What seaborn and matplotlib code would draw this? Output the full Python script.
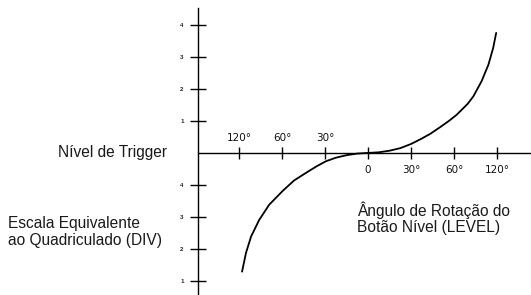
import matplotlib
matplotlib.use("Agg")
import matplotlib.pyplot as plt
import pandas as pd
import seaborn as sns

# Curve: knob rotation (tick units) vs trigger level (DIV)
rotation = [-2.93, -2.84, -2.72, -2.53, -2.30, -1.98, -1.72, -1.44, -1.20,
            -0.98, -0.75, -0.50, -0.25, 0.0, 0.25, 0.50, 0.75, 1.00, 1.25,
            1.45, 1.67, 1.87, 2.05, 2.18, 2.32, 2.45, 2.64, 2.80, 2.91, 2.98]
level = [-3.71, -3.13, -2.61, -2.09, -1.62, -1.18, -0.86, -0.62, -0.42,
         -0.26, -0.15, -0.07, -0.02, 0.0, 0.02, 0.07, 0.15, 0.28, 0.45,
         0.60, 0.80, 0.99, 1.18, 1.35, 1.54, 1.77, 2.24, 2.76, 3.28, 3.75]

x_ticks = [-3, -2, -1, 0, 1, 2, 3]
left_angle_ticks = [-3, -2, -1]
left_angle_labels = ["120°", "60°", "30°"]
right_angle_ticks = [0, 1, 2, 3]
right_angle_labels = ["0", "30°", "60°", "120°"]

y_ticks = [4, 3, 2, 1, -1, -2, -3, -4]
y_labels = ["4", "3", "2", "1", "4", "3", "2", "1"]

df = pd.DataFrame({"rotation": rotation, "level": level})

sns.set_style("white")
plt.rcParams["font.family"] = ["Liberation Sans", "DejaVu Sans"]

fig = plt.figure(figsize=(5.31, 2.95), dpi=100)
ax = fig.add_axes([0, 0, 1, 1])
ax.set_facecolor("white")

sns.lineplot(data=df, x="rotation", y="level", color="black",
             linewidth=1.3, ax=ax, sort=False, solid_joinstyle="round")

ax.set_xlim(-8.56, 3.79)
ax.set_ylim(-4.44, 4.78)

# axes drawn through the origin like the original sketch
for side in ["top", "right"]:
    ax.spines[side].set_visible(False)
ax.spines["left"].set_position(("data", -3.95))
ax.spines["bottom"].set_position(("data", 0))
ax.spines["left"].set_bounds(-4.44, 4.53)
ax.spines["bottom"].set_bounds(-3.95, 3.79)
for side in ["left", "bottom"]:
    ax.spines[side].set_color("black")
    ax.spines[side].set_linewidth(1.0)

ax.set_xticks(x_ticks, labels=[""] * len(x_ticks))
ax.set_yticks(y_ticks, labels=y_labels)
ax.tick_params(axis="x", direction="inout", length=9, width=1.0,
               color="black", bottom=True)
ax.tick_params(axis="y", direction="inout", length=11, width=1.0,
               color="black", left=True, labelsize=4.5, pad=5)
for lab in ax.get_yticklabels():
    lab.set_fontweight("bold")
ax.set_xlabel("")
ax.set_ylabel("")

for u, txt in zip(left_angle_ticks, left_angle_labels):
    ax.annotate(txt, (u, 0), xytext=(0, 11), textcoords="offset points",
                ha="center", va="center", fontsize=7.5,
                family="DejaVu Sans", color="#111111")
for u, txt in zip(right_angle_ticks, right_angle_labels):
    ax.annotate(txt, (u, 0), xytext=(0, -12), textcoords="offset points",
                ha="center", va="center", fontsize=7.5,
                family="DejaVu Sans", color="#111111")

W, H = 531, 295
fig.text(58 / W, 1 - 153 / H, "Nível de Trigger", fontsize=11.2,
         ha="left", va="center", color="#1a1a1a")
fig.text(8 / W, 1 - 232 / H, "Escala Equivalente\nao Quadriculado (DIV)",
         fontsize=11.2, ha="left", va="center", linespacing=1.2,
         color="#1a1a1a")
fig.text(357 / W, 1 - 218 / H, "Ângulo de Rotação do\nBotão Nível (LEVEL)",
         fontsize=11.2, ha="left", va="center", linespacing=1.12,
         color="#1a1a1a")

fig.savefig("out.png", dpi=100)
